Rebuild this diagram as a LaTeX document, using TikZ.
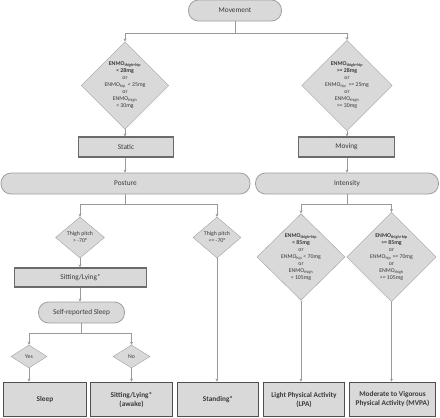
\documentclass[tikz,border=0pt]{standalone}
\usepackage{fontspec}
\setmainfont{Carlito}
\usetikzlibrary{shapes.geometric,arrows.meta}
\definecolor{boxfill}{HTML}{D9D9D9}
\definecolor{pillline}{HTML}{A0A0A0}
\definecolor{rectline}{HTML}{6B6B6B}
\definecolor{finline}{HTML}{4F4F4F}
\definecolor{conline}{HTML}{9A9A9A}
\definecolor{txt}{HTML}{3A3A3A}
\tikzset{
  base/.style={fill=boxfill, text=txt, inner sep=0pt, align=center, font=\fontsize{7.3}{8.6}\selectfont},
  pill/.style={base, draw=pillline, line width=0.8pt, rounded corners=10pt, minimum height=21pt},
  rectbox/.style={base, draw=rectline, line width=1.2pt, minimum height=20pt},
  finbox/.style={base, draw=finline, line width=1.8pt, minimum height=34pt, font=\fontsize{7.3}{9}\selectfont\bfseries},
  dia/.style={base, diamond, draw=pillline, line width=0.4pt, font=\fontsize{5.8}{7}\selectfont},
  conn/.style={draw=conline, line width=0.8pt},
  arr/.style={conn, -{Stealth[length=3pt,width=3pt]}},
}
\newcommand{\sbs}[1]{\textsubscript{#1}}
\begin{document}
\begin{tikzpicture}[x=1pt,y=-1pt]
\useasboundingbox (0,0) rectangle (440,418);
% top
\node[pill, minimum width=93pt] (mov) at (235,10.5) {Movement};
\coordinate (j1) at (235,33);
\node[dia, minimum width=87pt, minimum height=79pt] (d1) at (125,85.5)
 {\textbf{ENMO\sbs{thigh+hip}}\\\textbf{< 28mg}\\or\\ENMO\sbs{hip} \,< 25mg\\or\\ENMO\sbs{thigh}\\< 30mg};
\node[dia, minimum width=87pt, minimum height=79pt] (d2) at (347,85.5)
 {\textbf{ENMO\sbs{thigh+hip}}\\\textbf{>= 28mg}\\or\\ENMO\sbs{hip} \,>= 25mg\\or\\ENMO\sbs{thigh}\\>= 30mg};
\node[rectbox, minimum width=95pt] (st) at (126,147) {Static};
\node[rectbox, minimum width=96pt] (mv) at (346.5,147) {Moving};
\node[pill, minimum width=249pt] (pos) at (125.5,183.5) {Posture};
\node[pill, minimum width=183pt] (int) at (347,183.5) {Intensity};
\coordinate (j2) at (125,204);
\coordinate (j4) at (347,204);
% posture branch
\node[dia, minimum width=49pt, minimum height=41pt] (t1) at (80,237.5) {Thigh pitch\\> -70°};
\node[dia, minimum width=48pt, minimum height=41pt] (t2) at (217,237.5) {Thigh pitch\\<= -70°};
\node[rectbox, minimum width=132pt, minimum height=19pt] (sit) at (80.5,277.5) {Sitting/Lying*};
\node[pill, minimum width=86pt] (srs) at (81.5,312.5) {Self-reported Sleep};
\coordinate (j3) at (81.5,333);
\node[dia, minimum width=36pt, minimum height=23pt] (yes) at (29,356.5) {Yes};
\node[dia, minimum width=37pt, minimum height=23pt] (no) at (131.5,356.5) {No};
% intensity branch
\node[dia, minimum width=88pt, minimum height=80pt] (dl) at (301,257)
 {\textbf{ENMO\sbs{thigh+hip}}\\\textbf{< 85mg}\\or\\ENMO\sbs{hip} < 70mg\\or\\ENMO\sbs{thigh}\\< 105mg};
\node[dia, minimum width=87pt, minimum height=80pt] (dm) at (391.5,257)
 {\textbf{ENMO\sbs{thigh+hip}}\\\textbf{>= 85mg}\\or\\ENMO\sbs{hip} >= 70mg\\or\\ENMO\sbs{thigh}\\>= 105mg};
% final boxes
\node[finbox, minimum width=83pt] (sleep) at (45,399.5) {Sleep};
\node[finbox, minimum width=82pt] (awake) at (131.5,399.5) {Sitting/Lying*\\(awake)};
\node[finbox, minimum width=81pt] (stand) at (218,399.5) {Standing*};
\node[finbox, minimum width=81pt] (lpa) at (304,399.5) {Light Physical Activity\\(LPA)};
\node[finbox, minimum width=86pt] (mvpa) at (392.5,399.5) {Moderate to Vigorous\\Physical Activity (MVPA)};
% connectors
\draw[conn] (mov.south) -- (j1);
\draw[arr] (j1) -| (d1.north);
\draw[arr] (j1) -| (d2.north);
\draw[arr] (d1.south) -- (d1.south |- st.north);
\draw[arr] (d2.south) -- (d2.south |- mv.north);
\draw[arr] (st.south -| d1.south) -- (d1.south |- pos.north);
\draw[arr] (mv.south -| d2.south) -- (d2.south |- int.north);
\draw[conn] (pos.south -| j2) -- (j2);
\draw[arr] (j2) -| (t1.north);
\draw[arr] (j2) -| (t2.north);
\draw[arr] (t1.south) -- (t1.south |- sit.north);
\draw[arr] (sit.south -| t1.south) -- (t1.south |- srs.north);
\draw[conn] (srs.south -| j3) -- (j3);
\draw[arr] (j3) -| (yes.north);
\draw[arr] (j3) -| (no.north);
\draw[arr] (yes.south) -- (yes.south |- sleep.north);
\draw[arr] (no.south) -- (no.south |- awake.north);
\draw[arr] (t2.south) -- (t2.south |- stand.north);
\draw[conn] (int.south -| j4) -- (j4);
\draw[arr] (j4) -| (dl.north);
\draw[arr] (j4) -| (dm.north);
\draw[arr] (dl.south) -- (dl.south |- lpa.north);
\draw[arr] (dm.south) -- (dm.south |- mvpa.north);
\end{tikzpicture}
\end{document}
